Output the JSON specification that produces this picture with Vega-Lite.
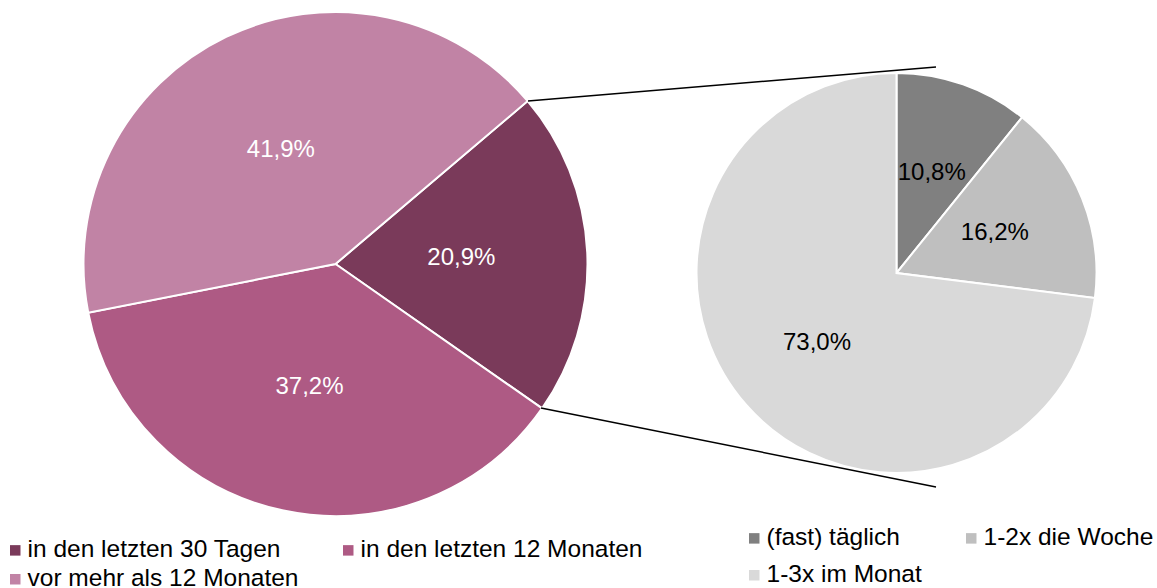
{
  "$schema": "https://vega.github.io/schema/vega-lite/v6.json",
  "width": 1157,
  "height": 588,
  "autosize": "none",
  "padding": 0,
  "background": "white",
  "config": {"view": {"stroke": null}, "font": "Liberation Sans"},
  "layer": [
    {
      "data": {"values": [
        {"cat": "in den letzten 30 Tagen", "value": 20.9, "label": "20,9%", "o": 1},
        {"cat": "in den letzten 12 Monaten", "value": 37.2, "label": "37,2%", "o": 2},
        {"cat": "vor mehr als 12 Monaten", "value": 41.9, "label": "41,9%", "o": 3}
      ]},
      "encoding": {
        "x": {"datum": 335.5, "type": "quantitative", "scale": {"domain": [0, 1157], "nice": false, "zero": false}, "axis": null},
        "y": {"datum": 264, "type": "quantitative", "scale": {"domain": [0, 588], "nice": false, "zero": false, "reverse": true}, "axis": null},
        "theta": {"field": "value", "type": "quantitative", "stack": true, "scale": {"range": [0.8674, 7.1506]}},
        "order": {"field": "o", "type": "quantitative"}
      },
      "layer": [
        {
          "mark": {"type": "arc", "radius": 252, "stroke": "white", "strokeWidth": 2},
          "encoding": {
            "color": {
              "field": "cat", "type": "nominal",
              "scale": {"domain": ["in den letzten 30 Tagen", "in den letzten 12 Monaten", "vor mehr als 12 Monaten"], "range": ["#7A3A5A", "#AE5A84", "#C183A5"]},
              "legend": {"title": null, "orient": "none", "legendX": 3, "legendY": 538, "columns": 2, "direction": "horizontal", "columnPadding": 37, "rowPadding": 4, "symbolType": "square", "symbolSize": 110, "symbolStrokeWidth": 0, "labelFontSize": 24.5, "labelFont": "Liberation Sans", "labelColor": "#000000", "labelOffset": 0, "padding": 0, "labelLimit": 400}
            }
          }
        },
        {
          "mark": {"type": "text", "radius": 126, "fontSize": 24, "color": "white", "font": "Liberation Sans"},
          "encoding": {"text": {"field": "label"}}
        }
      ]
    },
    {
      "data": {"values": [
        {"cat": "(fast) täglich", "value": 10.8, "label": "10,8%", "o": 1},
        {"cat": "1-2x die Woche", "value": 16.2, "label": "16,2%", "o": 2},
        {"cat": "1-3x im Monat", "value": 73.0, "label": "73,0%", "o": 3}
      ]},
      "encoding": {
        "x": {"datum": 896.5, "type": "quantitative"},
        "y": {"datum": 273, "type": "quantitative"},
        "theta": {"field": "value", "type": "quantitative", "stack": true, "scale": {"range": [0, 6.2832]}},
        "order": {"field": "o", "type": "quantitative"}
      },
      "layer": [
        {
          "mark": {"type": "arc", "radius": 200, "stroke": "white", "strokeWidth": 2},
          "encoding": {
            "color": {
              "field": "cat", "type": "nominal",
              "scale": {"domain": ["(fast) täglich", "1-2x die Woche", "1-3x im Monat"], "range": ["#808080", "#BFBFBF", "#D9D9D9"]},
              "legend": {"title": null, "orient": "none", "legendX": 742, "legendY": 526, "columns": 2, "direction": "horizontal", "columnPadding": 37, "rowPadding": 12, "symbolType": "square", "symbolSize": 110, "symbolStrokeWidth": 0, "labelFontSize": 24.5, "labelFont": "Liberation Sans", "labelColor": "#000000", "labelOffset": 0, "padding": 0, "labelLimit": 400}
            }
          }
        },
        {
          "mark": {"type": "text", "radius": 106, "fontSize": 24, "color": "black", "font": "Liberation Sans"},
          "encoding": {"text": {"field": "label"}}
        }
      ]
    },
    {
      "data": {"values": [
        {"x": 528, "y": 101, "x2": 936, "y2": 67},
        {"x": 541, "y": 408, "x2": 936, "y2": 487}
      ]},
      "mark": {"type": "rule", "color": "black", "strokeWidth": 1.5},
      "encoding": {
        "x": {"field": "x", "type": "quantitative"},
        "y": {"field": "y", "type": "quantitative"},
        "x2": {"field": "x2"},
        "y2": {"field": "y2"}
      }
    }
  ],
  "resolve": {"scale": {"theta": "independent", "color": "independent"}}
}
